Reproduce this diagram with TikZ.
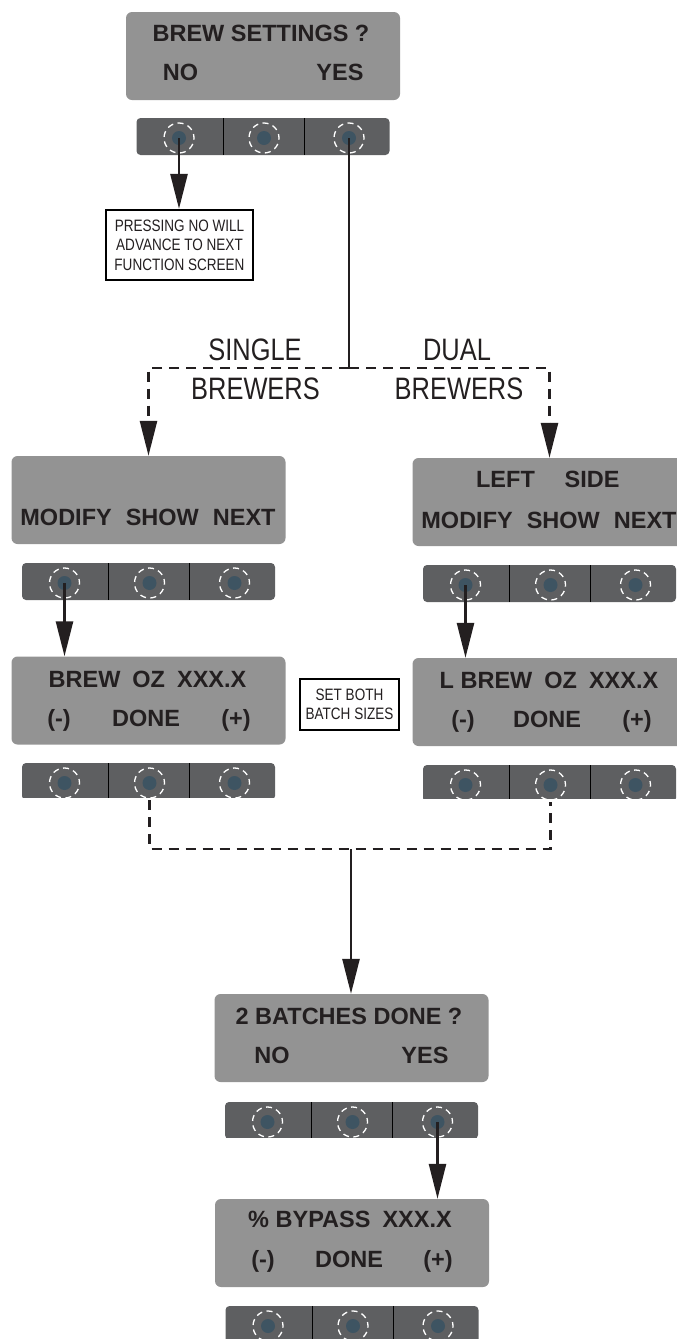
\documentclass[tikz,border=0pt]{standalone}
\usepackage{fontspec}
\setmainfont{Liberation Sans}
\newfontfamily\condfont[FakeStretch=0.82]{Liberation Sans}
\usetikzlibrary{calc,arrows.meta}
\definecolor{scrgray}{RGB}{147,147,147}
\definecolor{bargray}{RGB}{94,95,97}
\definecolor{dotblue}{RGB}{62,84,98}
\definecolor{inktext}{RGB}{35,31,32}
\def\buttonbar#1(#2,#3)#4{%
	\begin{scope}
		\clip (#2-130,#3-1) rectangle (#2+130,#3+#4);
		\node[bar] (#1) at (#2,#3+18.5) {};
		\draw[divider] (#2-40,#3) -- (#2-40,#3+37);
		\draw[divider] (#2+41,#3) -- (#2+41,#3+37);
		\node[knob] (#1a) at (#2-84,#3+20) {};
		\node[knob] (#1b) at (#2+1,#3+20) {};
		\node[knob] (#1c) at (#2+86,#3+20) {};
		\foreach \k in {a,b,c} \fill[dotblue] (#1\k) circle (7pt);
	\end{scope}
}

\begin{document}
\begin{tikzpicture}[x=1pt, y=-1pt,
	screen/.style={fill=scrgray, rounded corners=6pt, minimum width=274pt, minimum height=88pt, inner sep=0pt},
	bar/.style={fill=bargray, rounded corners=4pt, minimum width=253pt, minimum height=37pt, inner sep=0pt},
	divider/.style={line width=1pt, draw=black},
	knob/.style={circle, draw=white, dash pattern=on 6pt off 4.5pt, dash phase=2pt, line width=1.3pt, minimum size=30pt, inner sep=0pt},
	scr/.style={anchor=base, inner sep=0pt, text=inktext, font=\bfseries\fontsize{23.5}{26}\selectfont},
	lbl/.style={anchor=base, inner sep=0pt, text=inktext, font=\condfont\fontsize{31}{34}\selectfont},
	notebox/.style={draw=black, line width=2.2pt, fill=white, align=center, inner sep=0pt, text=inktext, font=\condfont\fontsize{16.5}{19.5}\selectfont},
	arr/.style={line width=2.6pt, draw=inktext, -{Triangle[width=17pt,length=35pt]}},
	dashline/.style={line width=2.6pt, draw=inktext, dash pattern=on 10pt off 7pt},
	dasharr/.style={dashline, -{Triangle[width=17pt,length=35pt]}}]
	%%%%% START %%%%%
	
	\useasboundingbox (0,0) rectangle (677,1339);
	\clip (0,0) rectangle (677,1339);
	
	% screens
	\node[screen] (s1) at (263,56) {};
	\node[screen] (s2L) at (148.5,500) {};
	\node[screen] (s2R) at (549.5,502) {};
	\node[screen] (s3L) at (148.5,700.5) {};
	\node[screen] (s3R) at (549.5,702) {};
	\node[screen] (s4) at (351.5,1038) {};
	\node[screen] (s5) at (352,1243) {};
	
	% button bars
	\buttonbar{bar1}(263,118){37}
	\buttonbar{bar2L}(148.5,563){37}
	\buttonbar{bar2R}(549.5,565){37}
	\buttonbar{bar3L}(148.5,763){34}
	\buttonbar{bar3R}(549.5,765){33}
	\buttonbar{bar4}(351.5,1102){35}
	\buttonbar{bar5}(352,1306){37}
	
	% screen texts
	\node[scr] at (261,41) {BREW SETTINGS ?};
	\node[scr] at (180.5,80) {NO};
	\node[scr] at (340,80) {YES};
	
	\node[scr] at (148,525) {MODIFY\hspace{14pt}SHOW\hspace{14pt}NEXT};
	
	\node[scr] at (505.5,487) {LEFT};
	\node[scr] at (592,487) {SIDE};
	\node[scr] at (549,528) {MODIFY\hspace{14pt}SHOW\hspace{14pt}NEXT};
	
	\node[scr] at (147.5,687) {BREW\hspace{12pt}OZ\hspace{12pt}XXX.X};
	\node[scr] at (59,726) {(-)};
	\node[scr] at (146,726) {DONE};
	\node[scr] at (236,726) {(+)};
	
	\node[scr] at (549,688) {L BREW\hspace{12pt}OZ\hspace{12pt}XXX.X};
	\node[scr] at (463,727) {(-)};
	\node[scr] at (547,727) {DONE};
	\node[scr] at (637,727) {(+)};
	
	\node[scr] at (349,1024) {2 BATCHES DONE ?};
	\node[scr] at (272,1063) {NO};
	\node[scr] at (425,1063) {YES};
	
	\node[scr] at (350,1227) {\% BYPASS\hspace{12pt}XXX.X};
	\node[scr] at (263,1267) {(-)};
	\node[scr] at (349,1267) {DONE};
	\node[scr] at (438,1267) {(+)};
	
	% notes and labels
	\node[notebox, minimum width=147pt, minimum height=70pt] (note) at (179.5,245) {PRESSING NO WILL\\ADVANCE TO NEXT\\FUNCTION SCREEN};
	\node[notebox, minimum width=99pt, minimum height=51pt] (setboth) at (349.5,704.5) {SET BOTH\\BATCH SIZES};
	
	\node[lbl] (single) at (255,360) {SINGLE};
	\node[lbl] (brewL) at (255.5,399) {BREWERS};
	\node[lbl] (dual) at (457,360) {DUAL};
	\node[lbl] (brewR) at (459,399) {BREWERS};
	
	% connectors
	\draw[arr] (bar1a.center) -- (bar1a.center |- note.north);
	
	\coordinate (split) at ($(bar1c)+(0,230)$);
	\draw[line width=2.6pt, draw=inktext] (bar1c.center) -- (split);
	\draw[dasharr] (split) -| (s2L.north);
	\draw[dasharr] (split) -| (s2R.north);
	
	\draw[arr] (bar2La.center) -- (bar2La.center |- s3L.north);
	\draw[arr] (bar2Ra.center) -- (bar2Ra.center |- s3R.north);
	
	\coordinate (join) at (351,849);
	\draw[dashline] (bar3Lb |- bar3L.south) |- (join) -| (bar3Rb |- bar3R.south);
	\draw[arr] (join) -- (join |- s4.north);
	
	\draw[arr] (bar4c.center) -- (bar4c.center |- s5.north);
	
	%%%%% END %%%%%
\end{tikzpicture}
\end{document}
